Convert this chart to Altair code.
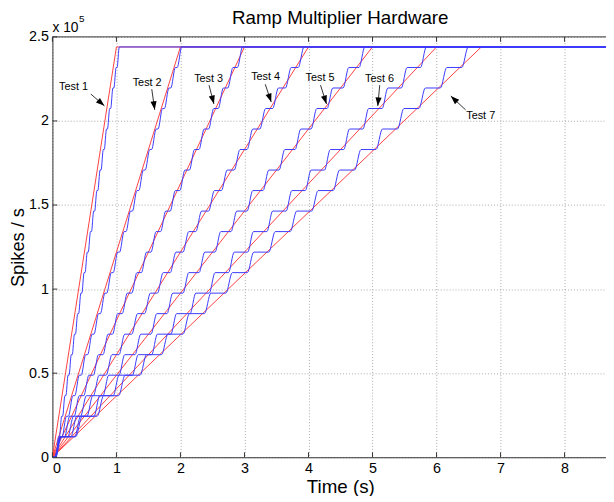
import math
import altair as alt
import pandas as pd

# ---------------- data ----------------
test_names = ["Test 1", "Test 2", "Test 3", "Test 4", "Test 5", "Test 6", "Test 7"]
ramp_end_s = [1.0, 2.0, 3.0, 4.0, 5.0, 6.0, 6.7]          # time the red ramp reaches the plateau
plateau_rate = 244000                                     # spikes / s
step_count = 20                                           # hardware steps of the blue staircase
step_lag_s = [0.06, 0.05, 0.04, 0.04, 0.04, 0.05, 0.03]   # delay of each blue step after the red ramp
step_rise_s = [0.035, 0.07, 0.08, 0.09, 0.09, 0.09, 0.1]  # duration of each blue step
red_stop_s = 7.0
x_end_s = 8.647

x_ticks = [0, 1, 2, 3, 4, 5, 6, 7, 8]
y_ticks = [0, 50000, 100000, 150000, 200000, 250000]

label_t = [0.33, 1.48, 2.44, 3.33, 4.18, 5.11, 6.69]
label_rate = [220100, 222300, 224700, 225900, 225300, 224700, 203100]
arrow_t0 = [0.60, 1.552, 2.446, 3.325, 4.188, 5.113, 6.454]
arrow_r0 = [216000, 218900, 221300, 221800, 221300, 221300, 206600]
arrow_t1 = [0.812, 1.598, 2.523, 3.418, 4.281, 5.082, 6.223]
arrow_r1 = [209000, 206600, 210100, 211200, 210100, 208900, 214800]

W, H = 561, 426
FONT = "Liberation Sans"

# ---------------- tables ----------------
red_rows, blue_rows = [], []
step = plateau_rate / step_count
for name, T, lag, rise in zip(test_names, ramp_end_s, step_lag_s, step_rise_s):
    red_rows += [
        {"test": name, "t": 0.0, "rate": 0.0},
        {"test": name, "t": T, "rate": plateau_rate},
        {"test": name, "t": red_stop_s, "rate": plateau_rate},
    ]
    dt = T / step_count
    blue_rows.append({"test": name, "t": 0.0, "rate": 0.0})
    for n in range(step_count):
        t0 = n * dt + lag
        blue_rows.append({"test": name, "t": t0, "rate": n * step})
        blue_rows.append({"test": name, "t": t0 + rise, "rate": (n + 1) * step})
    blue_rows.append({"test": name, "t": x_end_s, "rate": plateau_rate})
red_df = pd.DataFrame(red_rows)
blue_df = pd.DataFrame(blue_rows)

px_t = W / x_end_s
px_r = H / 250000
angles = []
for a, b, c, d in zip(arrow_t0, arrow_r0, arrow_t1, arrow_r1):
    dx = (c - a) * px_t
    dy = -(d - b) * px_r
    angles.append(math.degrees(math.atan2(dx, -dy)) % 360)
ann_df = pd.DataFrame({
    "label": test_names, "lt": label_t, "lr": label_rate,
    "t0": arrow_t0, "r0": arrow_r0, "t1": arrow_t1, "r1": arrow_r1, "ang": angles,
})

xs = alt.Scale(domain=[0, x_end_s], nice=False, zero=False)
ys = alt.Scale(domain=[0, 250000], nice=False, zero=False)
one = pd.DataFrame({"k": [0]})

x_axis = alt.Axis(
    values=x_ticks, grid=True, gridDash=[1, 2], gridColor="#aaaaaa", gridWidth=1,
    domainColor="#333333", ticks=False, tickSize=0, labelFont=FONT, labelFontSize=14.5,
    labelColor="black", labelPadding=4, labelExpr="'' + datum.value",
    title="Time (s)", titleFont=FONT,
    titleFontSize=19, titleFontWeight="normal", titleColor="black",
    titleX=291.7, titleY=36, titleBaseline="alphabetic", titleAlign="center",
)
y_axis = alt.Axis(
    values=y_ticks, grid=True, gridDash=[1, 2], gridColor="#aaaaaa", gridWidth=1,
    domainColor="#333333", ticks=False, tickSize=0, labelFont=FONT, labelFontSize=14.5,
    labelColor="black", labelPadding=4, labelExpr="'' + datum.value / 100000",
    title="Spikes / s", titleFont=FONT, titleFontSize=18.5, titleFontWeight="normal",
    titleColor="black", titleAngle=270, titleX=-29, titleY=213,
    titleBaseline="alphabetic", titleAlign="center",
)

red = alt.Chart(red_df).mark_line(color="#ff4040", strokeWidth=1, clip=True).encode(
    x=alt.X("t:Q", scale=xs, axis=x_axis),
    y=alt.Y("rate:Q", scale=ys, axis=y_axis),
    detail="test:N",
)
blue = alt.Chart(blue_df).mark_line(
    color="#3a3aff", strokeWidth=1, interpolate="monotone", clip=True
).encode(
    x=alt.X("t:Q", scale=xs), y=alt.Y("rate:Q", scale=ys), detail="test:N"
)

shafts = alt.Chart(ann_df).mark_rule(color="black", strokeWidth=0.8).encode(
    x=alt.X("t0:Q", scale=xs), y=alt.Y("r0:Q", scale=ys), x2="t1:Q", y2="r1:Q"
)
heads = alt.Chart(ann_df).mark_point(
    shape="M0,0L0.36,1L-0.36,1Z", filled=True, color="black", opacity=1, size=300
).encode(
    x=alt.X("t1:Q", scale=xs), y=alt.Y("r1:Q", scale=ys), angle=alt.Angle("ang:Q", scale=None)
)
labels = alt.Chart(ann_df).mark_text(
    font=FONT, fontSize=11, color="black", align="center", baseline="middle"
).encode(x=alt.X("lt:Q", scale=xs), y=alt.Y("lr:Q", scale=ys), text="label:N")

tick_x_df = pd.DataFrame({"t": x_ticks})
tick_y_df = pd.DataFrame({"rate": y_ticks})
ticks_bottom = alt.Chart(tick_x_df).mark_rule(color="#333333").encode(
    x=alt.X("t:Q", scale=xs), y=alt.value(H), y2=alt.value(H - 5)
)
ticks_top = alt.Chart(tick_x_df).mark_rule(color="#333333").encode(
    x=alt.X("t:Q", scale=xs), y=alt.value(0), y2=alt.value(5)
)
ticks_left = alt.Chart(tick_y_df).mark_rule(color="#333333").encode(
    y=alt.Y("rate:Q", scale=ys), x=alt.value(0), x2=alt.value(5)
)
top_border = alt.Chart(one).mark_rule(color="#333333").encode(
    x=alt.value(0), x2=alt.value(W), y=alt.value(0)
)

title = alt.Chart(one).mark_text(
    text="Ramp Multiplier Hardware", font=FONT, fontSize=19, color="black",
    align="center", baseline="alphabetic"
).encode(x=alt.value(291.7), y=alt.value(-13))
mult = alt.Chart(one).mark_text(
    text="x 10", font=FONT, fontSize=14, color="black", align="left", baseline="alphabetic"
).encode(x=alt.value(0), y=alt.value(-5))
mult_exp = alt.Chart(one).mark_text(
    text="5", font=FONT, fontSize=10, color="black", align="left", baseline="alphabetic"
).encode(x=alt.value(27), y=alt.value(-15))

chart = alt.layer(
    red, blue, ticks_bottom, ticks_top, ticks_left, top_border,
    shafts, heads, labels, title, mult, mult_exp,
).properties(
    width=W, height=H,
    autosize=alt.AutoSizeParams(type="none"),
    padding={"left": 45, "top": 26, "right": 0, "bottom": 36},
    background="white",
).configure_view(stroke=None)

chart.save("out.html", embed_options={"renderer": "svg", "actions": False})
